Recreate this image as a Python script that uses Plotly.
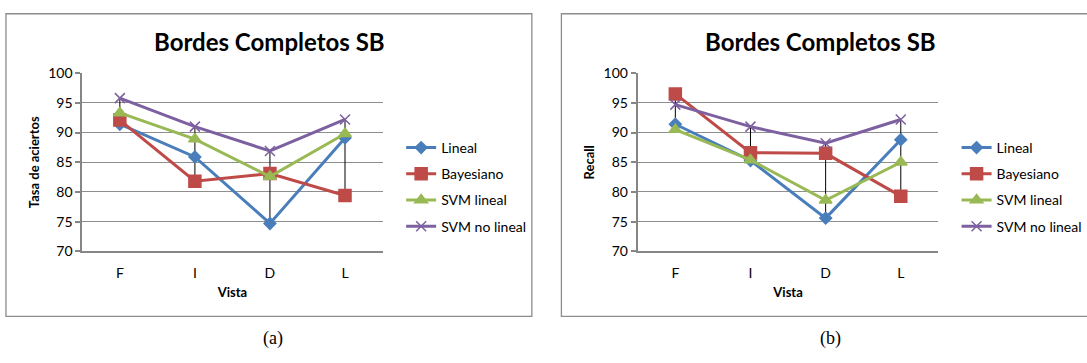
import plotly.graph_objects as go

W, H = 1087, 363

categories = ["F", "I", "D", "L"]
series_names = ["Lineal", "Bayesiano", "SVM lineal", "SVM no lineal"]

# (a) Tasa de aciertos
tasa_lineal = [91.4, 85.9, 74.7, 89.1]
tasa_bayesiano = [92.1, 81.8, 83.1, 79.4]
tasa_svm_lineal = [93.3, 88.9, 82.6, 89.8]
tasa_svm_no_lineal = [95.8, 91.0, 86.9, 92.2]

# (b) Recall
recall_lineal = [91.4, 85.3, 75.6, 88.8]
recall_bayesiano = [96.5, 86.6, 86.5, 79.3]
recall_svm_lineal = [90.5, 85.4, 78.6, 85.0]
recall_svm_no_lineal = [94.7, 91.0, 88.2, 92.2]

y_ticks = [70, 75, 80, 85, 90, 95, 100]
title_text = "Bordes Completos SB"
captions = ["(a)", "(b)"]

colors = ["#4a7ebb", "#be4b48", "#98b954", "#7d60a0"]
symbols = ["diamond", "square", "triangle-up", "x-thin"]
msizes = [9, 12, 11, 10]

FONT = "Lato, 'Open Sans', sans-serif"

def px(x):
    return x / W

def py(y):
    return 1 - y / H

fig = go.Figure()

panels = [
    dict(data=[tasa_lineal, tasa_bayesiano, tasa_svm_lineal, tasa_svm_no_lineal],
         xa="x", ya="y", legend="legend", ytitle="Tasa de aciertos",
         plot_x=(82.7, 384.3), box=(6, 534.3), legend_x=403, caption_x=274),
    dict(data=[recall_lineal, recall_bayesiano, recall_svm_lineal, recall_svm_no_lineal],
         xa="x2", ya="y2", legend="legend2", ytitle="Recall",
         plot_x=(640.7, 942.7), box=(564, 1095), legend_x=961, caption_x=834),
]

plot_top, plot_bot = 67.3, 254.3

for p in panels:
    # high-low lines (from max to min of each category)
    hx, hy = [], []
    for i, c in enumerate(categories):
        vals = [s[i] for s in p["data"]]
        hx += [c, c, None]
        hy += [max(vals), min(vals), None]
    fig.add_trace(go.Scatter(x=hx, y=hy, mode="lines", line=dict(color="black", width=1),
                             xaxis=p["xa"], yaxis=p["ya"], showlegend=False, hoverinfo="skip"))
    for k, name in enumerate(series_names):
        fig.add_trace(go.Scatter(
            x=categories, y=p["data"][k], name=name, mode="lines+markers",
            line=dict(color=colors[k], width=3),
            marker=dict(symbol=symbols[k], size=msizes[k], color=colors[k],
                        line=dict(color=colors[k], width=1.5)),
            xaxis=p["xa"], yaxis=p["ya"], legend=p["legend"],
            legendgroup=p["legend"] + name,
        ))

layout = dict(
    width=W, height=H,
    margin=dict(l=0, r=0, t=0, b=0),
    paper_bgcolor="white", plot_bgcolor="white",
    font=dict(family=FONT, size=14, color="black"),
    shapes=[], annotations=[],
)

for idx, p in enumerate(panels):
    suffix = "" if idx == 0 else "2"
    layout["xaxis" + suffix] = dict(
        domain=[px(p["plot_x"][0]), px(p["plot_x"][1])],
        anchor="y" + suffix, type="category", range=[-0.5, 3.5],
        showline=True, linecolor="#868686", linewidth=2, showgrid=False,
        ticks="", tickfont=dict(size=14, family=FONT), ticklabelstandoff=8,
        title=dict(text="<b>Vista</b>", font=dict(size=13, family=FONT), standoff=8),
        fixedrange=True,
    )
    layout["yaxis" + suffix] = dict(
        domain=[py(plot_bot), py(plot_top)],
        anchor="x" + suffix, range=[70, 100], tickvals=y_ticks,
        showline=True, linecolor="#868686", linewidth=2,
        showgrid=True, gridcolor="#8e8e8e", gridwidth=1.2, zeroline=False,
        ticks="outside", ticklen=5, tickcolor="#868686", tickwidth=1.5,
        tickfont=dict(size=14, family=FONT),
        title=dict(text="<b>" + p["ytitle"] + "</b>", font=dict(size=13, family=FONT), standoff=6),
        fixedrange=True,
    )
    layout["legend" + suffix] = dict(
        x=px(p["legend_x"]), y=py(129), xanchor="left", yanchor="top",
        font=dict(size=14, family=FONT), bgcolor="rgba(0,0,0,0)",
        traceorder="grouped", tracegroupgap=5, itemwidth=30,
    )
    layout["shapes"].append(dict(
        type="rect", xref="paper", yref="paper",
        x0=px(p["box"][0]), x1=px(p["box"][1]), y0=py(322.5), y1=py(5),
        line=dict(color="#8c8c8c", width=1.3), fillcolor="rgba(0,0,0,0)", layer="below"))
    layout["annotations"].append(dict(
        text="<b>" + title_text + "</b>", xref="paper", yref="paper",
        x=px((p["box"][0] + min(p["box"][1], 1083)) / 2 + 1), y=py(34),
        xanchor="center", yanchor="middle", showarrow=False,
        font=dict(size=24, family=FONT, color="black")))
    layout["annotations"].append(dict(
        text=captions[idx], xref="paper", yref="paper",
        x=px(p["caption_x"]), y=py(346), xanchor="center", yanchor="middle",
        showarrow=False, font=dict(size=18, family="'Liberation Serif', 'DejaVu Serif', serif", color="black")))

fig.update_layout(**layout)
fig.write_html("out.html", config={"displayModeBar": False},
               post_script="document.body.style.margin='0';document.body.style.overflow='hidden';")
